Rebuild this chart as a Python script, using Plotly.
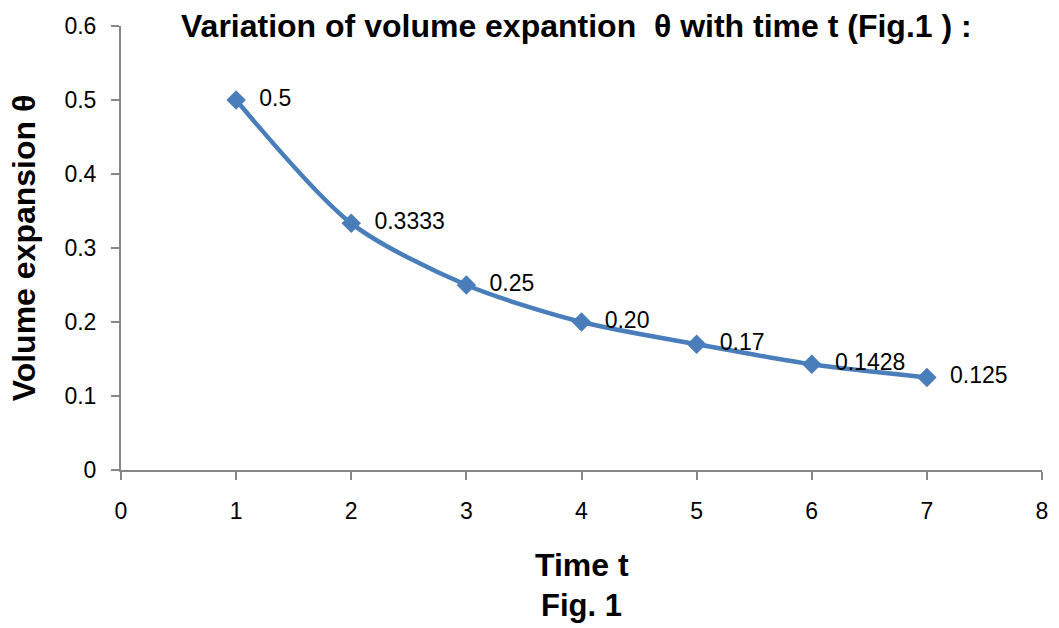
import plotly.graph_objects as go

time_t = [1, 2, 3, 4, 5, 6, 7]
theta = [0.5, 0.3333, 0.25, 0.20, 0.17, 0.1428, 0.125]
point_labels = ["0.5", "0.3333", "0.25", "0.20", "0.17", "0.1428", "0.125"]
x_ticks = [0, 1, 2, 3, 4, 5, 6, 7, 8]
y_ticks = [0, 0.1, 0.2, 0.3, 0.4, 0.5, 0.6]
y_tick_text = ["0", "0.1", "0.2", "0.3", "0.4", "0.5", "0.6"]

title_text = "Variation of volume expantion  \u03b8 with time t (Fig.1 ) :"
y_title = "Volume expansion \u03b8"
x_title = "Time t"
fig_caption = "Fig. 1"

color = "#4A7EBB"
font_fam = "Liberation Sans, Arial, sans-serif"

fig = go.Figure()
fig.add_trace(go.Scatter(
    x=time_t, y=theta, mode="lines+markers+text",
    text=["  " + s for s in point_labels], textposition="middle right",
    textfont=dict(family=font_fam, size=23, color="black"),
    line=dict(color=color, width=4.5, shape="spline", smoothing=0.8),
    marker=dict(symbol="diamond", size=15, color=color),
    showlegend=False, cliponaxis=False,
))

axis_common = dict(
    showgrid=False, zeroline=False, showline=True, linecolor="#868686", linewidth=2,
    ticks="outside", ticklen=8, tickcolor="#868686", tickwidth=2,
    tickfont=dict(family=font_fam, size=23, color="black"),
)
fig.update_xaxes(range=[0, 8], tickvals=x_ticks, ticklabelstandoff=11, **axis_common)
fig.update_yaxes(range=[0, 0.6], tickvals=y_ticks, ticktext=y_tick_text, ticklabelstandoff=10, **axis_common)

fig.update_layout(
    width=1059, height=628,
    margin=dict(l=121, r=17, t=26, b=158),
    plot_bgcolor="white", paper_bgcolor="white",
    font=dict(family=font_fam, color="black"),
    annotations=[
        dict(text="<b>" + title_text + "</b>", xref="paper", yref="paper", x=0.495, y=1.0,
             yanchor="middle", xanchor="center", showarrow=False,
             font=dict(family=font_fam, size=32, color="black")),
        dict(text="<b>" + y_title + "</b>", xref="paper", yref="paper", x=-0.105, y=0.5,
             xanchor="center", yanchor="middle", textangle=-90, showarrow=False,
             font=dict(family=font_fam, size=32, color="black")),
        dict(text="<b>" + x_title + "</b>", xref="paper", yref="paper", x=0.5, y=-0.215,
             xanchor="center", yanchor="middle", showarrow=False,
             font=dict(family=font_fam, size=32, color="black")),
        dict(text="<b>" + fig_caption + "</b>", xref="paper", yref="paper", x=0.5, y=-0.305,
             xanchor="center", yanchor="middle", showarrow=False,
             font=dict(family=font_fam, size=31, color="black")),
    ],
)

fig.write_html("out.html")
